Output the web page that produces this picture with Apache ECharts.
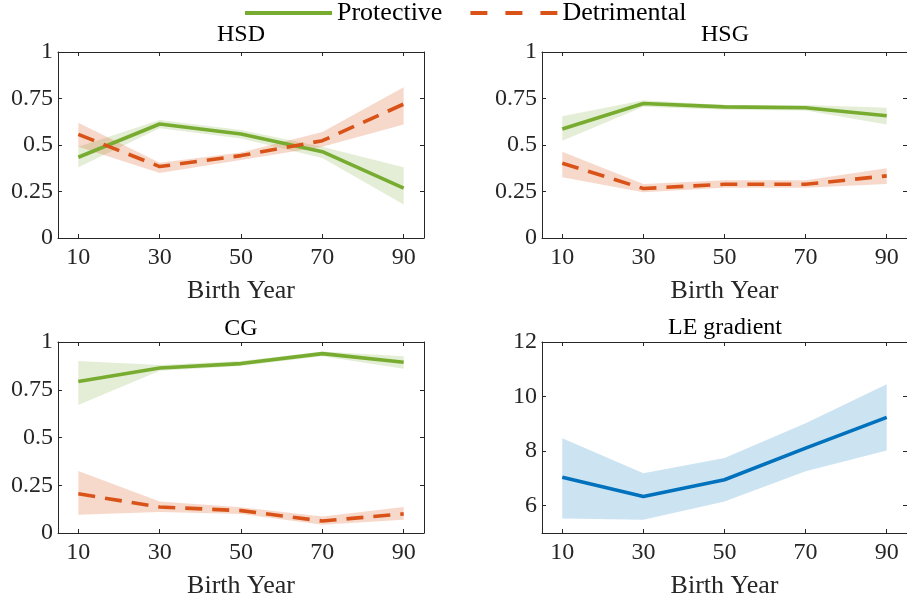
<!DOCTYPE html>
<html><head><meta charset="utf-8">
<script src="https://cdn.jsdelivr.net/npm/echarts@6/dist/echarts.min.js"></script>
<style>html,body{margin:0;padding:0;background:#fff}#c{width:907px;height:596px}</style>
</head><body><div id="c"></div>
<script>
// ---- data ----
const birthYears = [10, 30, 50, 70, 90];
const probTicks = [0, 0.25, 0.5, 0.75, 1];
const leTicks = [6, 8, 10, 12];
const panelTitles = ['HSD', 'HSG', 'CG', 'LE gradient'];

const hsdProt   = [0.434, 0.613, 0.559, 0.464, 0.268];
const hsdProtLo = [0.38, 0.59, 0.535, 0.43, 0.18];
const hsdProtHi = [0.49, 0.635, 0.58, 0.49, 0.38];
const hsdDet    = [0.557, 0.384, 0.443, 0.523, 0.72];
const hsdDetLo  = [0.49, 0.35, 0.42, 0.49, 0.61];
const hsdDetHi  = [0.62, 0.405, 0.46, 0.57, 0.81];

const hsgProt   = [0.586, 0.723, 0.705, 0.70, 0.657];
const hsgProtLo = [0.523, 0.705, 0.69, 0.685, 0.61];
const hsgProtHi = [0.655, 0.74, 0.715, 0.715, 0.70];
const hsgDet    = [0.402, 0.266, 0.289, 0.289, 0.334];
const hsgDetLo  = [0.327, 0.246, 0.27, 0.27, 0.29];
const hsgDetHi  = [0.464, 0.29, 0.31, 0.31, 0.375];

const cgProt    = [0.793, 0.864, 0.887, 0.939, 0.894];
const cgProtLo  = [0.67, 0.85, 0.875, 0.925, 0.86];
const cgProtHi  = [0.90, 0.88, 0.90, 0.95, 0.925];
const cgDet     = [0.205, 0.136, 0.117, 0.063, 0.10];
const cgDetLo   = [0.096, 0.11, 0.10, 0.043, 0.07];
const cgDetHi   = [0.325, 0.165, 0.135, 0.087, 0.136];

const leGrad    = [7.04, 6.34, 6.95, 8.11, 9.24];
const leGradLo  = [5.53, 5.49, 6.15, 7.26, 8.02];
const leGradHi  = [8.47, 7.19, 7.75, 9.02, 10.45];

// ---- styling ----
const FONT = 'Liberation Serif';
const AX = '#262626';
const GREEN = '#77AC30', ORANGE = '#D95319', BLUE = '#0072BD';
const GREEN_BAND = 'rgba(119,172,48,0.2)';
const ORANGE_BAND = 'rgba(217,83,25,0.22)';
const BLUE_BAND = 'rgba(0,114,189,0.2)';
const DASH = [17, 10];
const LW = 3.6;

const grids = [
  {left: 58, top: 52, width: 366, height: 186},
  {left: 542, top: 52, width: 365, height: 186},
  {left: 58, top: 342, width: 366, height: 191},
  {left: 542, top: 342, width: 365, height: 191}
].map(g => Object.assign({outerBoundsMode: 'none', containLabel: false, show: false}, g));

const xAxes = [], yAxes = [];
grids.forEach((g, i) => {
  const isLE = i === 3;
  const tickStyle = {show: true, inside: true, length: 4, customValues: birthYears, lineStyle: {color: AX, width: 1}};
  xAxes.push({
    gridIndex: i, type: 'value', min: 5, max: 95, position: 'bottom',
    axisLine: {show: true, onZero: false, lineStyle: {color: AX, width: 1}},
    axisTick: tickStyle,
    axisLabel: {show: true, customValues: birthYears, fontFamily: FONT, fontSize: 24, color: AX, margin: 8},
    splitLine: {show: false},
    name: 'Birth Year', nameLocation: 'middle', nameGap: 40,
    nameTextStyle: {fontFamily: FONT, fontSize: 26, color: AX}
  });
  xAxes.push({
    gridIndex: i, type: 'value', min: 5, max: 95, position: 'top',
    axisLine: {show: true, onZero: false, lineStyle: {color: AX, width: 1}},
    axisTick: tickStyle,
    axisLabel: {show: false, customValues: birthYears},
    splitLine: {show: false}
  });
  const yRange = isLE ? {min: 5, max: 12} : {min: 0, max: 1};
  const yTicks = isLE ? leTicks : probTicks;
  const yTick = {show: true, inside: true, length: 4, customValues: yTicks, lineStyle: {color: AX, width: 1}};
  yAxes.push(Object.assign({
    gridIndex: i, type: 'value', position: 'left',
    axisLine: {show: true, onZero: false, lineStyle: {color: AX, width: 1}},
    axisTick: yTick,
    axisLabel: {show: true, customValues: yTicks, fontFamily: FONT, fontSize: 24, color: AX, margin: 5},
    splitLine: {show: false}
  }, yRange));
  yAxes.push(Object.assign({
    gridIndex: i, type: 'value', position: 'right',
    axisLine: {show: true, onZero: false, lineStyle: {color: AX, width: 1}},
    axisTick: yTick,
    axisLabel: {show: false, customValues: yTicks},
    splitLine: {show: false}
  }, yRange));
});

function band(i, lo, hi, color) {
  return {
    type: 'custom', name: 'band' + i + color, xAxisIndex: 2 * i, yAxisIndex: 2 * i, silent: true, z: 1,
    data: birthYears.map((x, k) => [x, lo[k], hi[k]]),
    renderItem: function (params, api) {
      if (params.dataIndex !== 0) return null;
      const pts = [];
      for (let k = 0; k < birthYears.length; k++) pts.push(api.coord([birthYears[k], hi[k]]));
      for (let k = birthYears.length - 1; k >= 0; k--) pts.push(api.coord([birthYears[k], lo[k]]));
      return {type: 'polygon', shape: {points: pts}, style: {fill: color, stroke: null}};
    }
  };
}
function line(i, name, vals, color, dashed, z) {
  return {
    type: 'line', name: name, xAxisIndex: 2 * i, yAxisIndex: 2 * i, symbol: 'none', z: z,
    data: birthYears.map((x, k) => [x, vals[k]]),
    lineStyle: {color: color, width: LW, type: dashed ? DASH : 'solid'},
    itemStyle: {color: color}, silent: true
  };
}

const series = [
  band(0, hsdProtLo, hsdProtHi, GREEN_BAND), band(0, hsdDetLo, hsdDetHi, ORANGE_BAND),
  line(0, 'Protective', hsdProt, GREEN, false, 3), line(0, 'Detrimental', hsdDet, ORANGE, true, 4),
  band(1, hsgProtLo, hsgProtHi, GREEN_BAND), band(1, hsgDetLo, hsgDetHi, ORANGE_BAND),
  line(1, 'Protective', hsgProt, GREEN, false, 3), line(1, 'Detrimental', hsgDet, ORANGE, true, 4),
  band(2, cgProtLo, cgProtHi, GREEN_BAND), band(2, cgDetLo, cgDetHi, ORANGE_BAND),
  line(2, 'Protective', cgProt, GREEN, false, 3), line(2, 'Detrimental', cgDet, ORANGE, true, 4),
  band(3, leGradLo, leGradHi, BLUE_BAND),
  line(3, 'LE gradient', leGrad, BLUE, false, 3)
];

const titlePos = [[241, 35], [725, 35], [241, 329], [725, 328]];
const graphic = panelTitles.map((t, i) => ({
  type: 'text', x: titlePos[i][0], y: titlePos[i][1], silent: true,
  style: {text: t, fontFamily: FONT, fontSize: 24, fill: '#000', align: 'center', verticalAlign: 'middle'}
}));

const chart = echarts.init(document.getElementById('c'), null, {renderer: 'canvas'});
chart.setOption({
  animation: false,
  backgroundColor: '#fff',
  grid: grids,
  xAxis: xAxes,
  yAxis: yAxes,
  legend: {
    data: [
      {name: 'Protective'},
      {name: 'Detrimental', lineStyle: {type: [17, 18]}}
    ],
    left: 243, top: 0, padding: 0,
    itemWidth: 87, itemHeight: 24, itemGap: 26,
    itemStyle: {opacity: 0},
    lineStyle: {width: 4},
    textStyle: {fontFamily: FONT, fontSize: 26, color: '#000'}
  },
  graphic: graphic,
  series: series
});
</script></body></html>
